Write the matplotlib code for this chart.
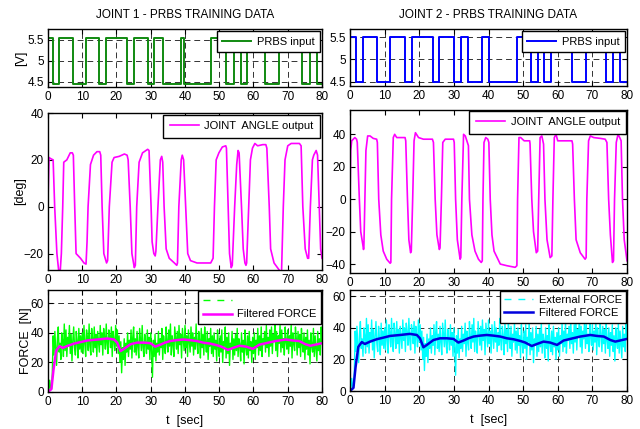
import matplotlib
matplotlib.use("Agg")
import matplotlib.pyplot as plt
from matplotlib.lines import Line2D
import numpy as np

plt.rcParams['font.family'] = ['Liberation Sans Narrow', 'Liberation Sans', 'DejaVu Sans']

# ---------------- data ----------------
# PRBS switching times (s); signal starts high
prbs1_edges = [0, 1.5, 3.2, 7.2, 11.0, 15.0, 17.0, 23.2, 25.0, 29.3, 31.0, 33.5, 38.7,
               39.7, 47.6, 52.0, 54.2, 56.3, 58.2, 63.5, 67.5, 74.3, 76.6, 78.5, 80]
prbs1_levels = [5.55, 4.45]
prbs2_edges = [0, 1.7, 3.7, 7.9, 11.6, 16.0, 17.9, 23.9, 25.8, 29.9, 32.0, 34.1, 38.0,
               40.0, 48.2, 52.2, 54.2, 56.1, 58.0, 64.1, 68.1, 74.0, 75.9, 78.0, 80]
prbs2_levels = [5.5, 4.5]

# joint 1 angle output (deg)
ang1_t = [0, 0.3, 0.8, 1.5, 1.95, 2.6, 3.1, 3.5, 3.9, 4.3, 4.6, 5.5, 6.5, 7.1, 7.4, 7.8, 8.2,
          9.5, 10.5, 11.1, 11.4, 11.7, 12.4, 13.3, 14.3, 15.1, 15.4, 15.8, 16.3, 17.1, 17.4,
          17.9, 18.7, 19.3, 20.8, 22.3, 23.1, 23.4, 24.0, 24.5, 25.2, 25.5, 25.9, 26.6, 27.6,
          29.1, 29.5, 30.1, 30.4, 30.9, 31.3, 31.5, 32.1, 32.8, 33.2, 33.5, 33.9, 34.5, 35.4,
          36.9, 37.6, 37.8, 38.2, 38.9, 39.2, 39.6, 40.2, 40.8, 41.6, 43.5, 47.5, 48.2, 48.6,
          49.1, 49.9, 50.9, 51.9, 52.1, 52.6, 53.0, 53.5, 53.8, 54.5, 55.1, 55.5, 55.8, 56.5,
          57.0, 57.5, 57.8, 58.0, 58.6, 59.1, 59.7, 60.4, 61.2, 62.7, 63.6, 63.9, 64.6, 65.0,
          66.0, 67.5, 68.0, 68.2, 68.7, 69.2, 70.0, 71.0, 73.4, 73.9, 74.4, 75.1, 75.8, 76.1,
          76.6, 77.2, 77.6, 78.3, 78.7, 79.2, 79.6, 80.0]
ang1_y = [3, 21, 20.5, 20, 0, -20, -27, -29, -20, 0, 19, 20, 23, 23, 22, 0, -20,
          -22, -24, -24.5, -15, 0, 18, 22, 23.5, 23.5, 22, 0, -20, -24, -23,
          0, 19, 21, 21.5, 22.5, 22, 20, 0, -20, -26, -25, 0, 19, 23,
          24.5, 24, 0, -15, -20, -21, -19, 0, 20, 21.5, 19, 0, -18, -22,
          -24, -25, -24, 0, 20, 22, 20, 0, -20, -23, -24, -24, -22, 0,
          20, 23, 25.5, 26, 25, 0, -20, -26, -25, 0, 18, 24, 23, 0,
          -18, -24, -25, -24, 0, 20, 25, 27, 26, 26.5, 26.5, 25, 0, -18,
          -24, -27, -28, -27, 0, 20, 26, 27, 27, 26, 0, -18, -22, -22,
          0, 20, 22, 24, 22, 0, -18, -22]

# joint 2 angle output (deg)
ang2_t = [0, 0.2, 0.5, 1.4, 1.9, 2.1, 2.7, 3.1, 3.7, 3.9, 4.0, 4.3, 4.6, 5.1, 5.8, 6.7, 7.7,
          7.9, 8.3, 8.9, 9.6, 10.6, 11.6, 11.8, 12.0, 12.5, 12.9, 13.5, 15.9, 16.1, 16.6,
          17.0, 17.5, 17.7, 18.1, 18.5, 18.9, 19.8, 21.2, 23.8, 24.1, 24.6, 25.1, 25.8, 26.0,
          26.4, 26.8, 27.5, 29.9, 30.1, 30.5, 31.0, 31.8, 32.0, 32.3, 32.8, 33.3, 33.9, 34.2,
          34.5, 35.2, 36.1, 37.1, 37.9, 38.2, 38.4, 38.7, 39.2, 39.8, 40.1, 40.5, 41.0, 41.6,
          43.4, 45.3, 47.7, 48.2, 48.4, 48.8, 49.3, 50.3, 51.9, 52.0, 52.5, 53.0, 53.8, 54.2,
          54.5, 54.9, 55.4, 55.9, 56.3, 56.9, 57.8, 58.3, 58.6, 59.0, 59.5, 60.0, 64.1, 64.3,
          64.8, 65.3, 66.5, 67.9, 68.2, 68.4, 68.9, 69.4, 70.4, 72.3, 73.7, 74.2, 74.7, 75.2,
          75.8, 76.1, 76.4, 76.9, 77.4, 77.9, 78.3, 78.7, 79.2, 80.0]
ang2_y = [0, 30, 36, 38, 37, 35, 0, -20, -28, -31, -30, 0, 30, 39, 39, 37.5, 37,
          35, 0, -22, -32, -37, -39.5, -39, 0, 38, 40, 38, 38, 36, 0,
          -25, -33, -32, 0, 36, 41, 38, 37, 37, 35, 0, -22, -31, -30,
          0, 35, 37, 37, 35, 0, -25, -37, -36, 0, 40, 39, 35, 33,
          0, -22, -32, -37, -39, -38, 0, 35, 38, 37, 35, 0, -22, -32,
          -40, -41, -42, -41, 0, 38, 38, 36, 36, 34, 0, -20, -33, -32,
          0, 38, 39, 34, 0, -25, -36, -35, 0, 38, 40, 36, 36, 34,
          0, -25, -33, -37, -36, 0, 36, 39, 38, 37.5, 37, 35, 0, -22,
          -39, -38, 0, 35, 40, 38, 36, 0, -25, -38]

# force (N): time base 0..80 s every 0.25 s
force_t = np.arange(0, 80.001, 0.25)
force_ext = [
    0, 1, 8, 3, 2, 12, 38, 25, 41, 30, 18, 36, 44, 27, 33, 22, 40, 35, 24, 46,
    28, 42, 24, 37, 31, 45, 26, 39, 21, 35, 44, 30, 25, 41, 34, 23, 43, 29, 38, 27,
    40, 26, 45, 33, 24, 42, 37, 28, 46, 31, 25, 43, 36, 27, 44, 30, 39, 24, 41, 34,
    27, 45, 32, 40, 25, 43, 37, 29, 46, 33, 26, 42, 38, 30, 44, 24, 41, 35, 28, 45,
    31, 42, 26, 38, 20, 34, 13, 30, 22, 36, 18, 33, 27, 40, 24, 35, 29, 42, 23, 37,
    44, 27, 36, 25, 41, 31, 23, 43, 35, 28, 45, 30, 24, 39, 33, 26, 42, 29, 37, 22,
    40, 28, 10, 35, 24, 39, 21, 33, 27, 41, 25, 36, 30, 43, 22, 38, 31, 26, 44, 34,
    27, 42, 31, 46, 25, 38, 33, 24, 44, 36, 29, 41, 26, 45, 32, 39, 23, 43, 35, 28,
    45, 30, 38, 24, 42, 34, 27, 44, 31, 40, 25, 37, 29, 46, 33, 26, 41, 35, 23, 43,
    30, 39, 25, 44, 33, 27, 41, 22, 36, 31, 43, 26, 38, 24, 40, 29, 35, 21, 42, 30,
    24, 38, 27, 42, 20, 34, 31, 44, 23, 37, 26, 40, 18, 33, 29, 41, 22, 36, 25, 39,
    28, 43, 24, 36, 32, 21, 40, 27, 35, 19, 42, 30, 25, 38, 23, 41, 28, 34, 20, 37,
    26, 40, 22, 35, 30, 43, 25, 38, 28, 44, 24, 36, 32, 41, 27, 45, 30, 37, 24, 42,
    31, 44, 26, 39, 35, 46, 28, 41, 24, 38, 33, 45, 27, 42, 30, 36, 25, 44, 34, 29,
    42, 26, 38, 31, 45, 23, 40, 33, 28, 44, 36, 25, 41, 30, 39, 24, 43, 32, 27, 40,
    22, 37, 29, 42, 25, 35, 19, 40, 31, 27, 43, 24, 38, 30, 21, 41, 28, 36, 25, 44,
    33]
filt_t = [0, 0.5, 1.0, 1.6, 2.4, 3.4, 4.3, 5.8, 7.7, 9.6, 11.6, 14.5, 17.3, 19.3, 20.2,
          21.2, 22.2, 24.1, 26.0, 28.0, 29.9, 31.3, 32.8, 34.2, 35.7, 37.6, 39.5, 41.4, 43.4,
          45.3, 47.2, 49.2, 50.6, 52.5, 54.0, 55.9, 57.8, 59.8, 61.7, 63.6, 66.5, 69.4, 71.3,
          73.3, 75.2, 76.6, 78.6, 80.0]
filt_y = [0, 1, 2, 15, 28, 31, 29.8, 31.3, 32.8, 33.8, 34.9, 35.5, 36.2, 35.5, 33.4,
          27.7, 29.2, 32.3, 33.4, 33.4, 33.0, 30.7, 32.0, 33.4, 34.5, 35.1, 35.5, 35.1, 34.5,
          33.4, 32.8, 31.7, 30.7, 28.5, 29.8, 31.3, 30.7, 29.2, 32.0, 33.0, 34.5, 35.5, 34.9,
          34.5, 32.3, 31.3, 32.3, 33.0]

xticks = [0, 10, 20, 30, 40, 50, 60, 70, 80]

# ---------------- figure ----------------
fig = plt.figure(figsize=(6.4, 4.29), dpi=100)

def pos(x0, y0, x1, y1):
    W, H = 640.0, 429.0
    return [x0 / W, 1 - y1 / H, (x1 - x0) / W, (y1 - y0) / H]

FS = 8.5
LFS = 8

def style(ax, grid=False):
    ax.set_xlim(0, 80)
    ax.set_xticks(xticks)
    ax.tick_params(direction='in', top=True, right=True, length=3.5, width=0.8,
                   labelsize=FS, pad=3)
    for s in ax.spines.values():
        s.set_linewidth(1.0)
        s.set_color('black')
    if grid:
        ax.grid(True, linestyle=(0, (6, 4)), color='black', linewidth=0.7, alpha=0.8)

def leg(ax, handles=None, labels=None, pad=0.25, bpad=0.55, lsp=0.25):
    kw = dict(loc='upper right', fontsize=LFS, fancybox=False, framealpha=1,
              edgecolor='black', borderaxespad=pad, handlelength=2.6,
              borderpad=bpad, labelspacing=lsp, handletextpad=0.5)
    if handles is None:
        L = ax.legend(**kw)
    else:
        L = ax.legend(handles, labels, **kw)
    L.get_frame().set_linewidth(1.0)
    return L

def prbs_series(edges, levels):
    ys = [levels[i % 2] for i in range(len(edges) - 1)]
    ys.append(ys[-1])
    return edges, ys

# Row 1: PRBS
ax1 = fig.add_axes(pos(48, 29, 322, 87))
e, v = prbs_series(prbs1_edges, prbs1_levels)
ax1.step(e, v, where='post', color='#108a10', lw=1.4, label='PRBS input')
style(ax1, grid=True)
ax1.set_ylim(4.38, 5.76)
ax1.set_yticks([4.5, 5, 5.5])
ax1.set_yticklabels(['4.5', '5', '5.5'])
ax1.set_ylabel('[V]', fontsize=FS + 0.5)
ax1.yaxis.set_label_coords(-0.077, 0.5)
ax1.set_title('JOINT 1 - PRBS TRAINING DATA', fontsize=FS, pad=8)
leg(ax1, pad=0.2, bpad=0.5)

ax2 = fig.add_axes(pos(350, 29, 627, 86))
e, v = prbs_series(prbs2_edges, prbs2_levels)
ax2.step(e, v, where='post', color='#0000ff', lw=1.4, label='PRBS input')
style(ax2, grid=True)
ax2.set_ylim(4.4, 5.68)
ax2.set_yticks([4.5, 5, 5.5])
ax2.set_yticklabels(['4.5', '5', '5.5'])
ax2.set_title('JOINT 2 - PRBS TRAINING DATA', fontsize=FS, pad=8)
leg(ax2, pad=0.2, bpad=0.5)

# Row 2: joint angles
ax3 = fig.add_axes(pos(48, 113, 322, 270))
ax3.plot(ang1_t, ang1_y, color='#ff00ff', lw=1.2, label='JOINT  ANGLE output')
style(ax3)
ax3.set_ylim(-27, 40)
ax3.set_yticks([-20, 0, 20, 40])
ax3.set_ylabel('[deg]', fontsize=FS + 0.5)
ax3.yaxis.set_label_coords(-0.08, 0.5)
leg(ax3, pad=0.15, bpad=0.6)

ax4 = fig.add_axes(pos(350, 110, 627, 273))
ax4.plot(ang2_t, ang2_y, color='#ff00ff', lw=1.2, label='JOINT  ANGLE output')
style(ax4)
ax4.set_ylim(-45.5, 55)
ax4.set_yticks([-40, -20, 0, 20, 40])
leg(ax4, pad=0.05, bpad=0.6)

# Row 3: force
ax5 = fig.add_axes(pos(48, 290, 322, 392))
ax5.plot(force_t, force_ext, color='#00ff00', lw=1.0)
ax5.plot(filt_t, filt_y, color='#ff00ff', lw=1.8)
style(ax5, grid=True)
ax5.set_ylim(0, 69)
ax5.set_yticks([0, 20, 40, 60])
ax5.set_ylabel('FORCE  [N]', fontsize=FS + 0.5)
ax5.yaxis.set_label_coords(-0.06, 0.5)
ax5.set_xlabel('t  [sec]', fontsize=FS + 0.5, labelpad=5)
h5 = [Line2D([], [], color='#00ff00', lw=1.0, linestyle=(0, (5, 5))),
      Line2D([], [], color='#ff00ff', lw=1.8)]
leg(ax5, h5, [' ', 'Filtered FORCE'], pad=0.05, bpad=0.45, lsp=0.35)

ax6 = fig.add_axes(pos(350, 290, 627, 391))
ax6.plot(force_t, force_ext, color='#00ffff', lw=1.0)
ax6.plot(filt_t, filt_y, color='#0000dd', lw=1.8)
style(ax6, grid=True)
ax6.set_ylim(0, 64)
ax6.set_yticks([0, 20, 40, 60])
ax6.set_xlabel('t  [sec]', fontsize=FS + 0.5, labelpad=5)
h6 = [Line2D([], [], color='#00ffff', lw=1.0, linestyle=(0, (5, 5))),
      Line2D([], [], color='#0000dd', lw=1.8)]
leg(ax6, h6, ['External FORCE', 'Filtered FORCE'], pad=0.05, bpad=0.4, lsp=0.3)

fig.savefig('out.png', dpi=100)
